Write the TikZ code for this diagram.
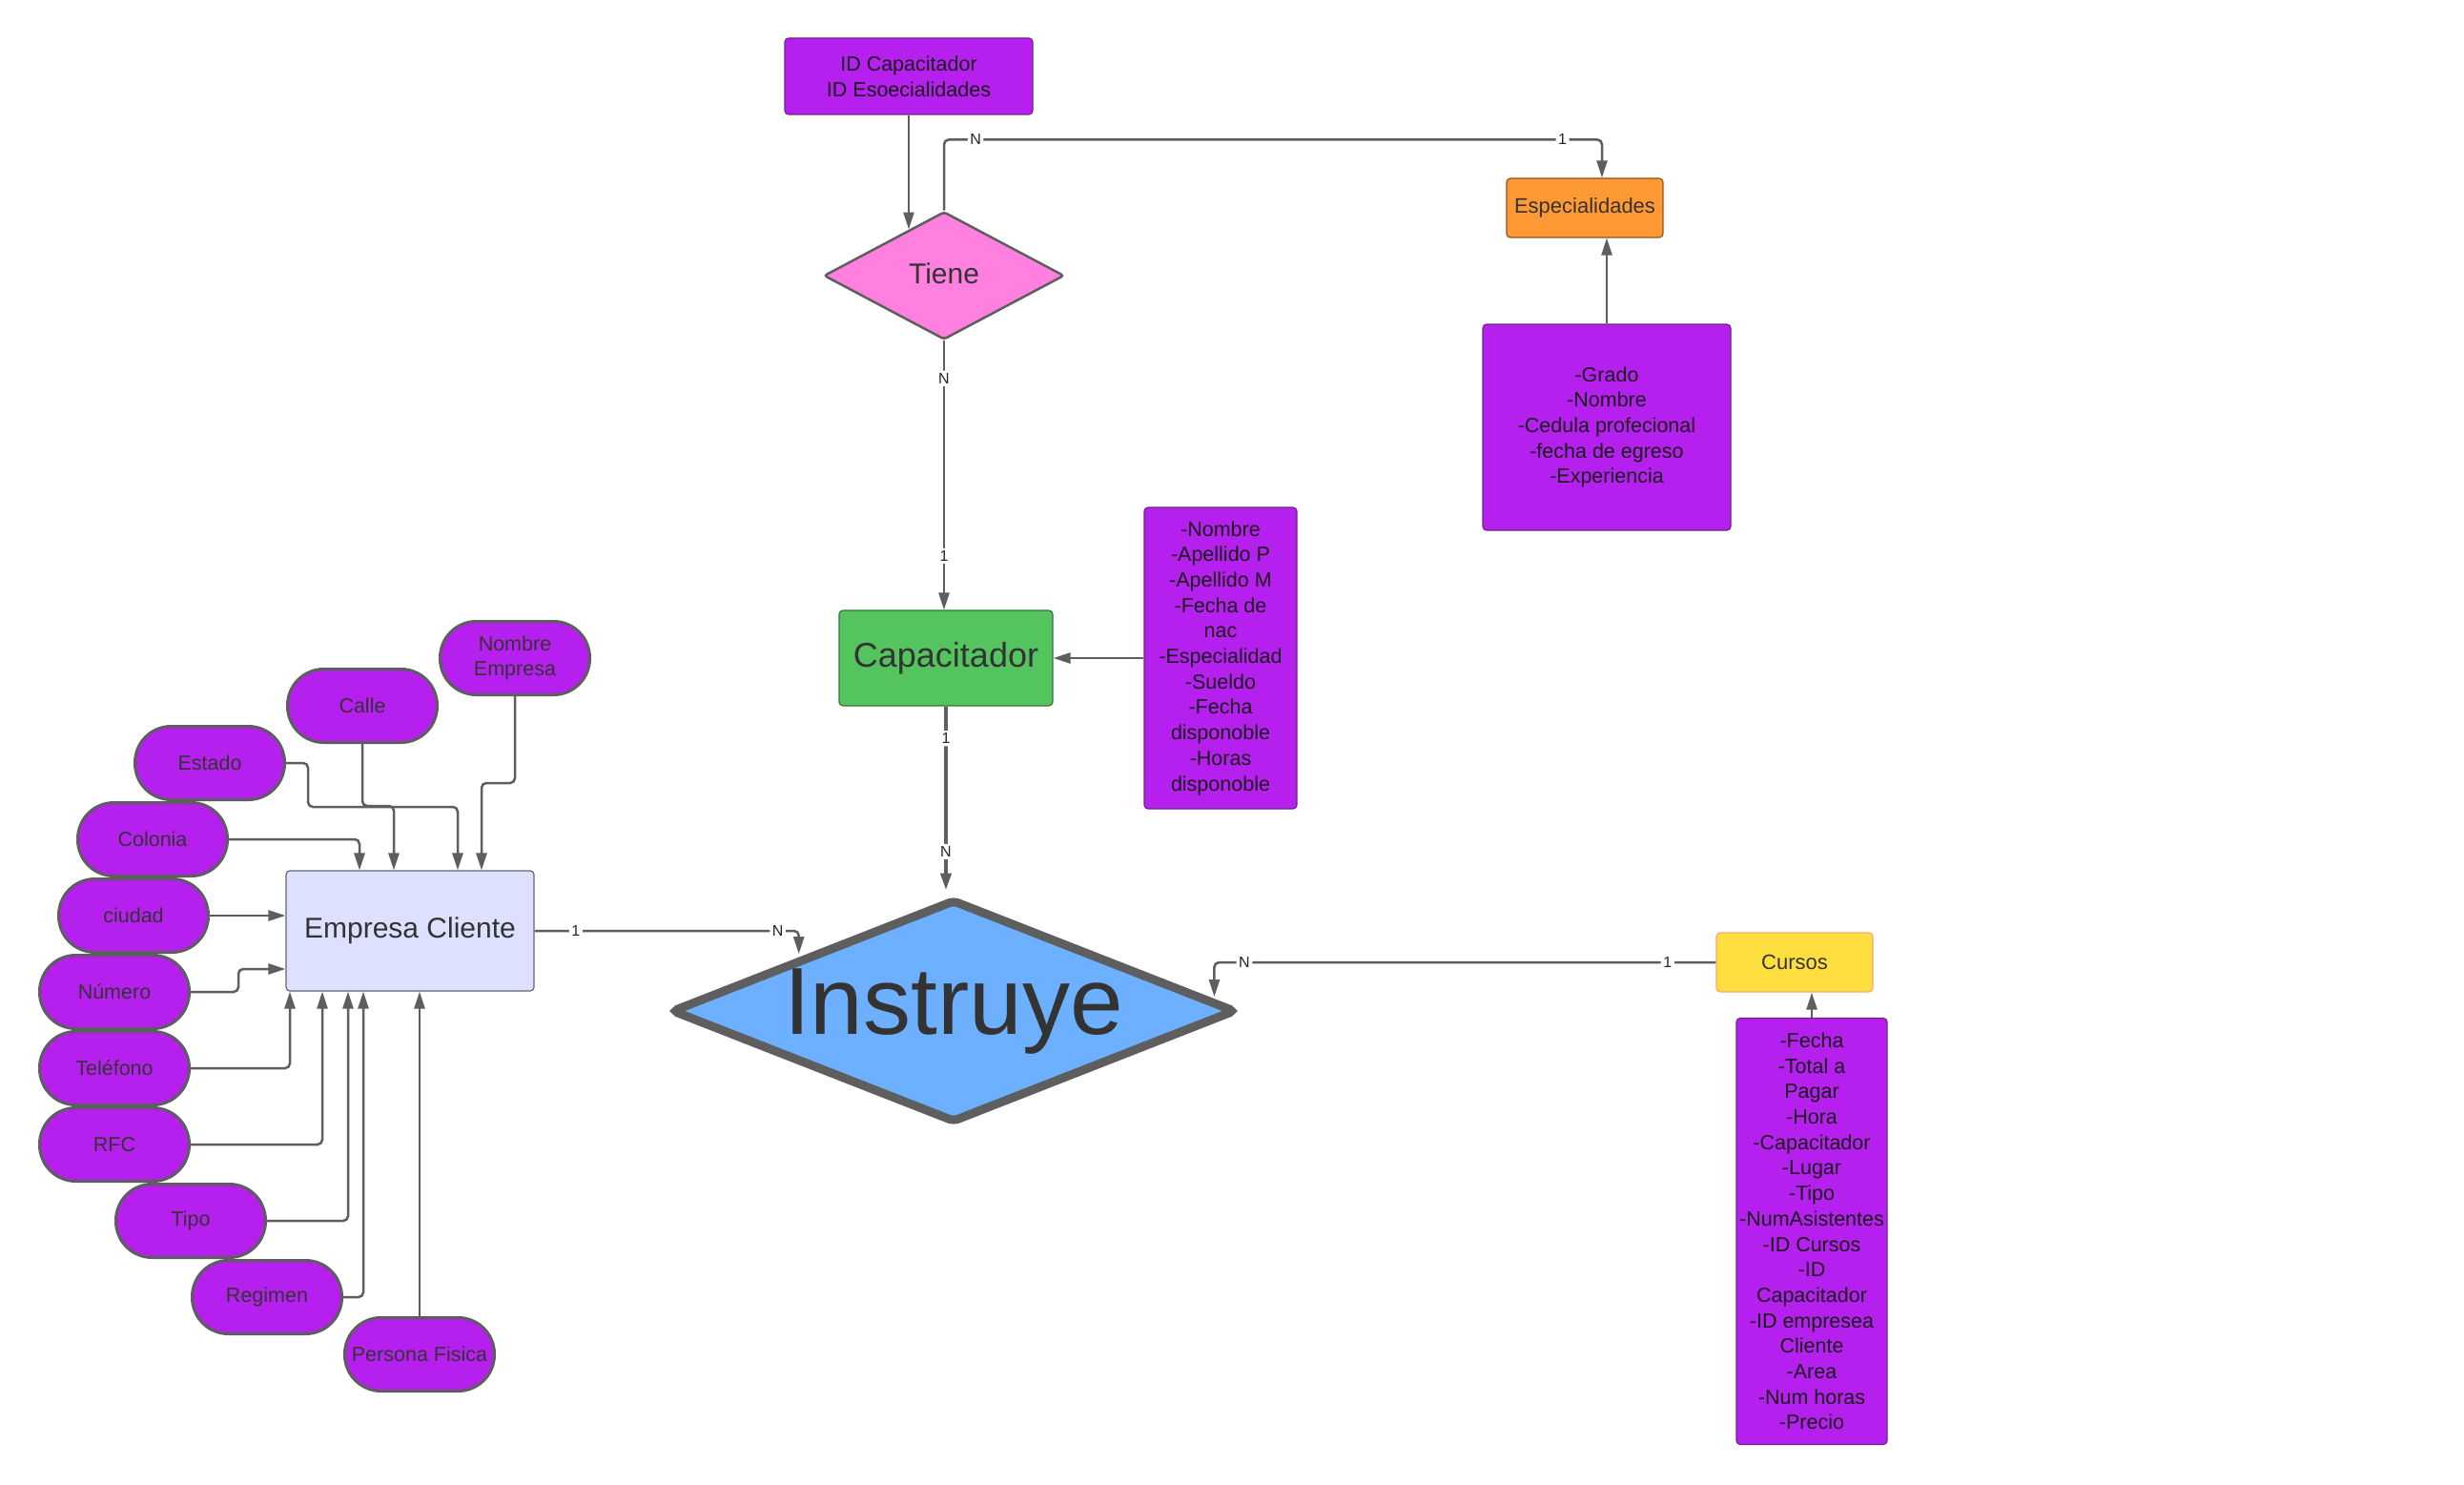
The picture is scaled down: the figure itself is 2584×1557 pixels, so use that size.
\documentclass[tikz,border=0pt]{standalone}
\usepackage{fontspec}
\setmainfont{Liberation Sans}
\usetikzlibrary{arrows.meta}
\usetikzlibrary{shapes.geometric}
\usetikzlibrary{calc}

\definecolor{attrpurple}{HTML}{B620EE}
\definecolor{attredge}{HTML}{6A2488}
\definecolor{linegray}{HTML}{5E5E5E}
\definecolor{relpink}{HTML}{FF80DF}
\definecolor{relblue}{HTML}{6CB0FF}
\definecolor{entgreen}{HTML}{53C45E}
\definecolor{entlav}{HTML}{DDE0FF}
\definecolor{entorange}{HTML}{FF9933}
\definecolor{entyellow}{HTML}{FFDF3F}
\definecolor{txtgray}{HTML}{333333}

\tikzset{
  conn/.style={draw=linegray, line width=2.5pt, rounded corners=5pt,
    -{Triangle[length=18pt,width=11pt]}},
  card/.style={fill=white, inner sep=2.5pt, text=black!85,
    font=\fontsize{16}{16}\selectfont},
  attrbox/.style={rectangle, rounded corners=4pt, fill=attrpurple, draw=attredge,
    line width=1.2pt, inner sep=0pt, align=center, text=black!90,
    font=\fontsize{21.5}{26.7}\selectfont},
  pill/.style={rectangle, rounded corners=38pt, fill=attrpurple, draw=linegray,
    line width=3pt, minimum width=157pt, minimum height=77pt, inner sep=0pt,
    align=center, text=txtgray, font=\fontsize{21.5}{26.4}\selectfont},
  entbox/.style={rectangle, rounded corners=4pt, line width=1.2pt, inner sep=0pt,
    align=center, text=txtgray},
  relbox/.style={diamond, draw=linegray, inner sep=0pt, text=txtgray}
}

\begin{document}
\begin{tikzpicture}[x=1pt,y=-1pt]

\fill[white] (0,0) rectangle (2584,1557);
\useasboundingbox (0,0) rectangle (2584,1557);

% Relationship nodes
\node[relbox, fill=relpink, line width=2.5pt, rounded corners=3pt, aspect=1,
  minimum width=252pt, minimum height=134pt,
  font=\fontsize{30}{30}\selectfont] (tiene) at (990,289) {\raisebox{4pt}{Tiene}};
\node[relbox, fill=relblue, line width=9pt, rounded corners=5pt, aspect=2.5,
  minimum width=592pt, minimum height=234pt,
  font=\fontsize{100}{100}\selectfont] (instr) at (1000,1060) {\makebox[0pt]{\raisebox{5pt}{Instruye}}};

% Entity nodes
\node[entbox, fill=entorange, draw=black!45!entorange, minimum width=164pt,
  minimum height=62pt, font=\fontsize{22}{22}\selectfont] (espec) at (1662,218) {Especialidades};
\node[entbox, fill=entgreen, draw=black!40!entgreen, minimum width=224pt,
  minimum height=100pt, font=\fontsize{36}{36}\selectfont] (cap) at (992,690) {Capacitador};
\node[entbox, fill=entlav, draw=black!55!entlav, minimum width=260pt,
  minimum height=126pt, font=\fontsize{30}{30}\selectfont] (emp) at (430,976) {Empresa Cliente};
\node[entbox, fill=entyellow, draw=orange!40!pink, minimum width=164pt,
  minimum height=62pt, font=\fontsize{22}{22}\selectfont] (cursos) at (1882,1009) {Cursos};

% Attribute boxes
\node[attrbox, minimum width=260pt, minimum height=80pt] (ids) at (953,80)
  {ID Capacitador\\ID Esoecialidades};
\node[attrbox, minimum width=260pt, minimum height=216pt] (espattr) at (1685,448)
  {-Grado\\-Nombre\\-Cedula profecional\\-fecha de egreso\\-Experiencia};
\node[attrbox, minimum width=160pt, minimum height=316pt] (capattr) at (1280,690)
  {-Nombre\\-Apellido P\\-Apellido M\\-Fecha de\\nac\\-Especialidad\\-Sueldo\\-Fecha\\disponoble\\-Horas\\disponoble};
\node[attrbox, minimum width=158pt, minimum height=447pt] (cursattr) at (1900,1291)
  {-Fecha\\-Total a\\Pagar\\-Hora\\-Capacitador\\-Lugar\\-Tipo\\-NumAsistentes\\-ID Cursos\\-ID\\Capacitador\\-ID empresea\\Cliente\\-Area\\-Num horas\\-Precio};

% Attributes of Empresa Cliente
\node[pill] (nemp) at (540,690) {Nombre\\Empresa};
\node[pill] (calle) at (380,740) {Calle};
\node[pill] (estado) at (220,800) {Estado};
\node[pill] (colonia) at (160,880) {Colonia};
\node[pill] (ciudad) at (140,960) {ciudad};
\node[pill] (numero) at (120,1040) {Número};
\node[pill] (telefono) at (120,1120) {Teléfono};
\node[pill] (rfc) at (120,1200) {RFC};
\node[pill] (tipo) at (200,1280) {Tipo};
\node[pill] (regimen) at (280,1360) {Regimen};
\node[pill] (pfisica) at (440,1420) {Persona Fisica};

% Points on the diamond borders
\coordinate (tieneA) at ($(tiene.north)!0.29!(tiene.west)$);
\coordinate (instrA) at ($(instr.north)!0.54!(instr.west)$);
\coordinate (instrB) at ($(instr.north)!0.91!(instr.east)$);

% Tiene
\draw[conn] (ids.south) -- (ids.south |- tieneA);
\draw[conn] (tiene.north) |- node[card,pos=0.524]{N} node[card,pos=0.97]{1}
  ([xshift=18pt,yshift=40pt]espec.north) -- ([xshift=18pt]espec.north);
\draw[conn] (tiene.south) -- node[card,pos=0.14]{N} node[card,pos=0.8]{1}
  (tiene.south |- cap.north);
\draw[conn] (espattr.north) -- (espattr.north |- espec.south);
\draw[conn] (capattr.west) -- (cap.east);

% Instruye
\draw[conn, line width=4pt, shorten >=5pt] (cap.south) -- node[card,pos=0.17]{1}
  node[card,pos=0.77]{N} (cap.south |- instr.north);
\draw[conn, shorten >=4pt] (emp.east) -| node[card,pos=0.078]{1}
  node[card,pos=0.46]{N} (instrA);
\draw[conn, shorten >=4pt] (cursos.west) -| node[card,pos=0.048]{1}
  node[card,pos=0.47]{N} (instrB);
\draw[conn] (cursattr.north) -- (cursattr.north |- cursos.south);

% Arrows into Empresa Cliente
\draw[conn] (nemp.south) -- ++(0,91) -| ([xshift=75pt]emp.north);
\draw[conn] (calle.south) -- ++(0,65) -| ([xshift=-17pt]emp.north);
\draw[conn] (estado.east) -| ++(23,46) -| ([xshift=50pt]emp.north);
\draw[conn] (colonia.east) -| ([xshift=-53pt]emp.north);
\draw[conn] (ciudad.east) -- (emp.west |- ciudad.east);
\draw[conn] (numero.east) -- ++(50,0) |- ([yshift=-40pt]emp.west);
\draw[conn] (telefono.east) -| ([xshift=-126pt]emp.south);
\draw[conn] (rfc.east) -| ([xshift=-92pt]emp.south);
\draw[conn] (tipo.east) -| ([xshift=-65pt]emp.south);
\draw[conn] (regimen.east) -| ([xshift=-49pt]emp.south);
\draw[conn] (pfisica.north) -- (pfisica.north |- emp.south);

\end{tikzpicture}
\end{document}
